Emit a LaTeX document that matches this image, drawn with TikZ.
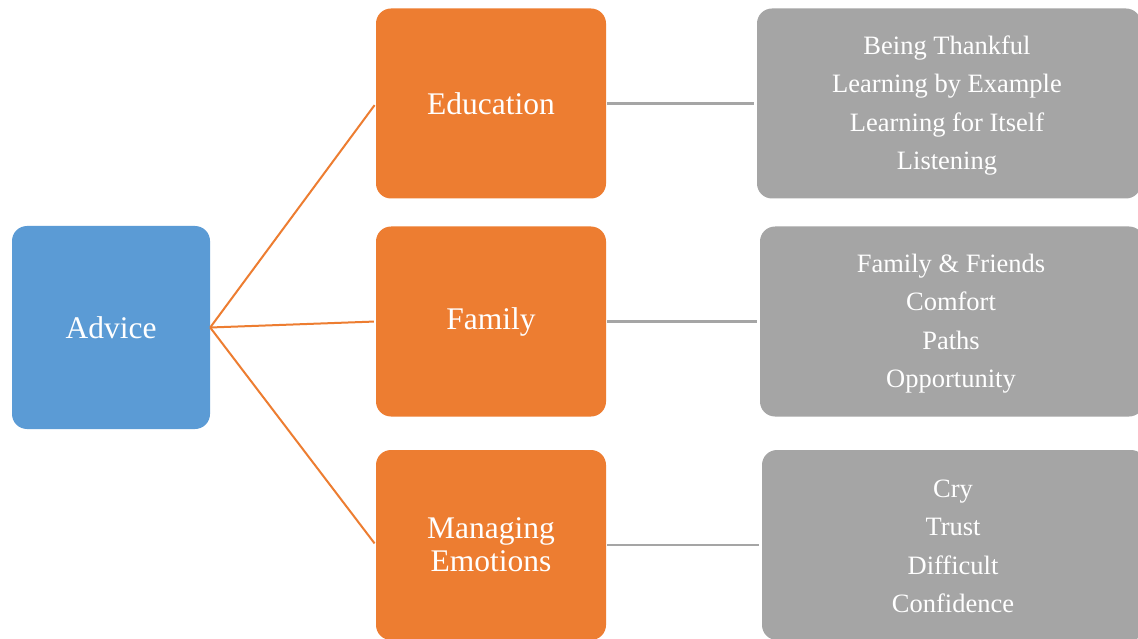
\documentclass[tikz,border=0pt]{standalone}
\usepackage{fontspec}
\setmainfont{Liberation Serif}
\definecolor{cblue}{HTML}{5B9BD5}
\definecolor{corange}{HTML}{ED7D31}
\definecolor{cgray}{HTML}{A5A5A5}
\tikzset{
  box/.style={rectangle, rounded corners=15pt, draw=none, text=white, align=center, inner sep=0pt},
  rootbox/.style={box, fill=cblue, font=\fontsize{31.5}{33}\selectfont},
  catbox/.style={box, fill=corange, font=\fontsize{31.5}{33}\selectfont},
  listbox/.style={box, fill=cgray, font=\fontsize{26.5}{38.5}\selectfont},
  listtext/.style={text=white, align=center, inner sep=0pt, font=\fontsize{26.5}{38.5}\selectfont},
  oline/.style={draw=corange, line width=2pt},
  gline/.style={draw=cgray, line width=2.5pt}
}
\begin{document}
\begin{tikzpicture}[x=1pt,y=-1pt]
\clip (0,0) rectangle (1138,639);
\fill[white] (0,0) rectangle (1138,639);
\node[rootbox, minimum width=198pt, minimum height=203pt] (adv) at (111,327.5) {Advice};
\node[catbox, minimum width=230pt, minimum height=190pt] (edu) at (491,103.5) {Education};
\node[catbox, minimum width=230pt, minimum height=190pt] (fam) at (491,321.5) {Family};
\node[catbox, minimum width=230pt, minimum height=190pt] (emo) at (491,545) {Managing\\Emotions};
\node[listbox, minimum width=384pt, minimum height=190pt] (edul) at (949,103.5) {};
\node[listbox, minimum width=384pt, minimum height=190pt] (faml) at (952,321.5) {};
\node[listbox, minimum width=384pt, minimum height=190pt] (emol) at (954,545) {};
\node[listtext] (edut) at (947,105.5) {Being Thankful\\Learning by Example\\Learning for Itself\\Listening};
\node[listtext] (famt) at (951,323.5) {Family \& Friends\\Comfort\\Paths\\Opportunity};
\node[listtext] (emot) at (953,546.5) {Cry\\Trust\\Difficult\\Confidence};
\draw[oline, shorten >=2pt] (adv.east) -- (edu.west);
\draw[oline, shorten >=2pt] (adv.east) -- (fam.west);
\draw[oline, shorten >=2pt] (adv.east) -- (emo.west);
\draw[gline, shorten <=1pt, shorten >=3pt] (edu.east) -- (edul.west);
\draw[gline, shorten <=1pt, shorten >=3pt] (fam.east) -- (faml.west);
\draw[gline, shorten <=1pt, shorten >=3pt] (emo.east) -- (emol.west);
\end{tikzpicture}
\end{document}
